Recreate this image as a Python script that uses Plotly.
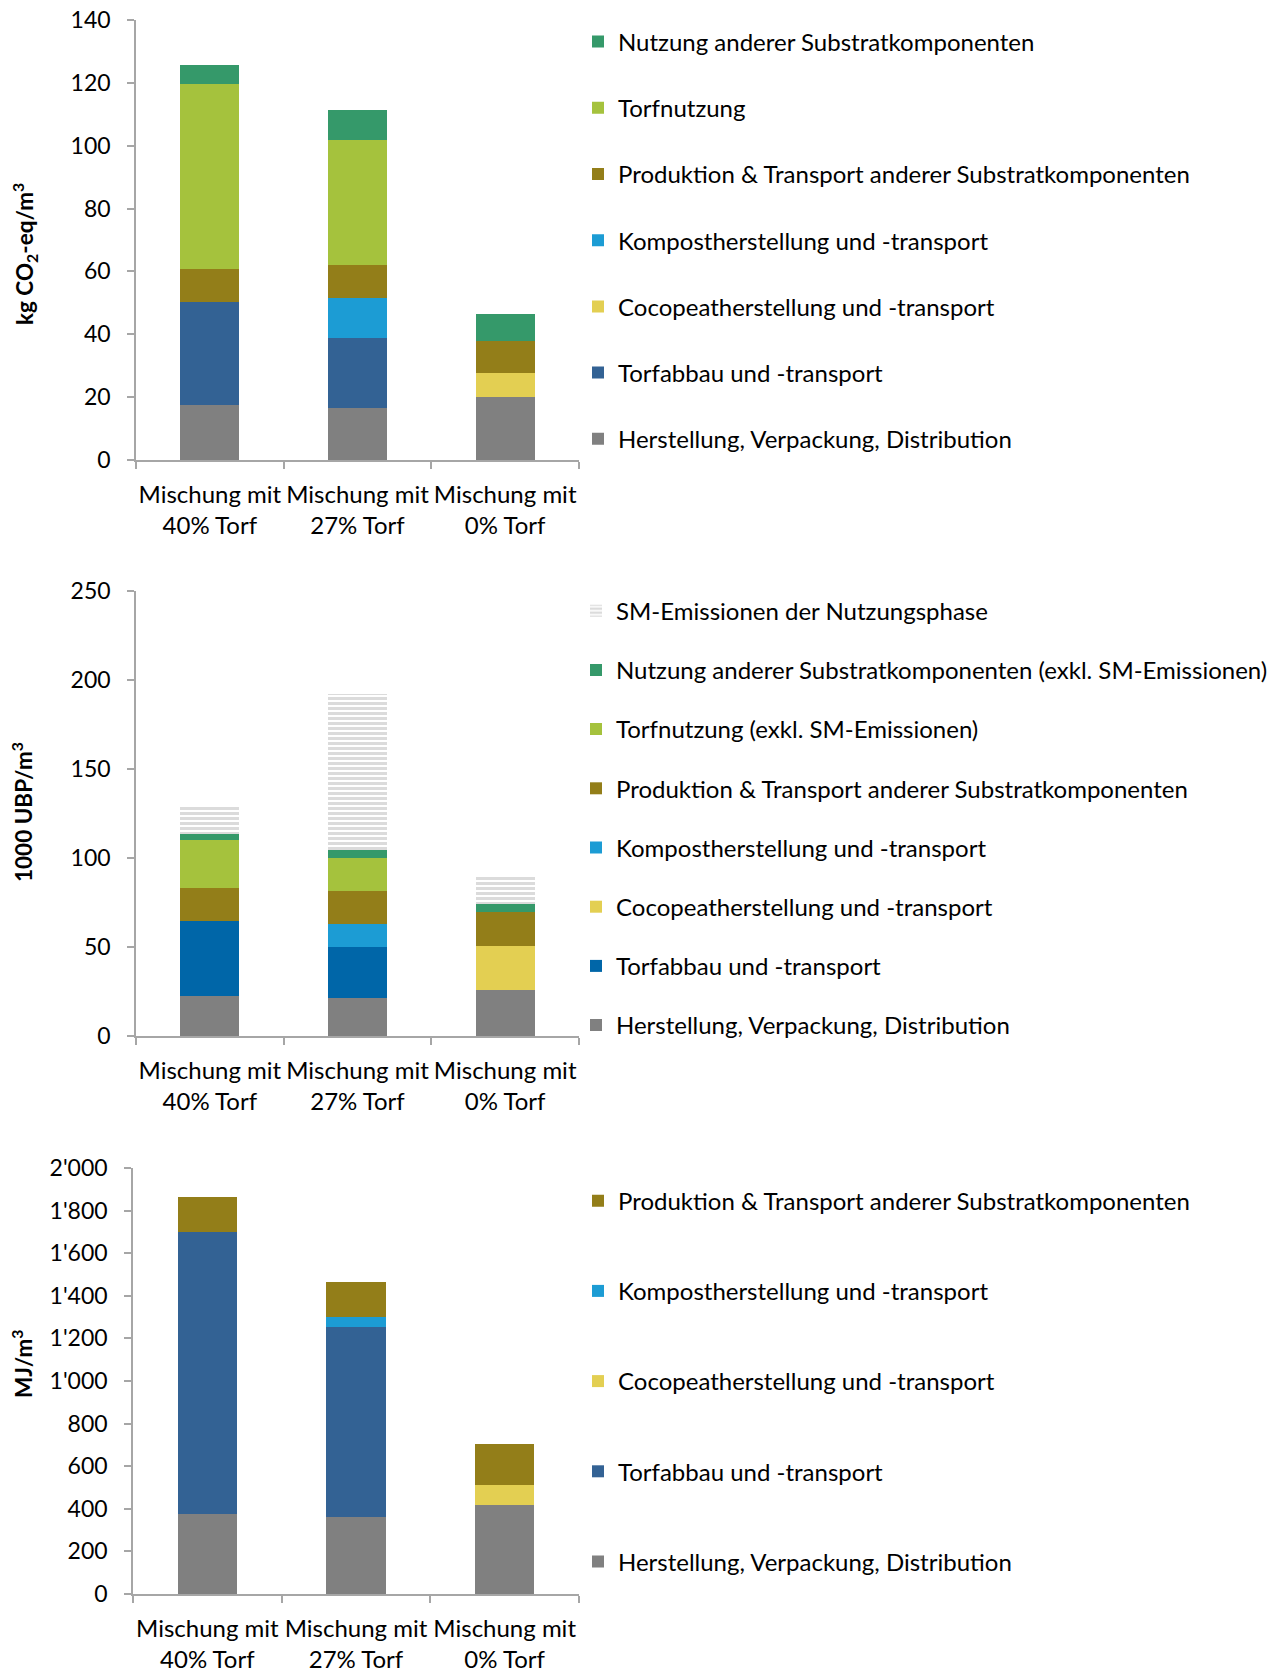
import plotly.graph_objects as go

categories = ["Mischung mit<br>40% Torf", "Mischung mit<br>27% Torf", "Mischung mit<br>0% Torf"]

# Chart 1: kg CO2-eq/m3
c1_herstellung = [17.6, 16.7, 20.1]
c1_torfabbau = [32.7, 22.1, 0]
c1_cocopeat = [0, 0, 7.5]
c1_kompost = [0, 12.7, 0]
c1_produktion = [10.4, 10.6, 10.4]
c1_torfnutzung = [58.8, 39.7, 0]
c1_nutzung = [6.2, 9.6, 8.5]

# Chart 2: 1000 UBP/m3
c2_herstellung = [22.3, 21.3, 25.7]
c2_torfabbau = [42.3, 28.6, 0]
c2_cocopeat = [0, 0, 25.0]
c2_kompost = [0, 13.1, 0]
c2_produktion = [18.4, 18.4, 19.1]
c2_torfnutzung = [27.1, 18.4, 0]
c2_nutzung = [3.2, 4.9, 4.4]
c2_sm = [15.4, 87.6, 15.8]

# Chart 3: MJ/m3
c3_herstellung = [374, 362, 418]
c3_torfabbau = [1325, 891, 0]
c3_cocopeat = [0, 0, 93]
c3_kompost = [0, 48, 0]
c3_produktion = [166, 162, 192]

GRAY = "#808080"
BLUE1 = "#336294"
BLUE2 = "#0066A8"
KOMPOST = "#1C9CD4"
COCO = "#E3CF52"
BROWN = "#937E19"
LGREEN = "#A5C23D"
GREEN = "#35996A"

FONT = "Lato"
W, H = 1281, 1670
OFF = 8  # page body margin


def xp(px):
    return (px - OFF) / W


def yp(py):
    return 1 - (py - OFF) / H


fig = go.Figure()
rank = {"legend": 1000, "legend2": 1000, "legend3": 1000}


def add(name, vals, color, xa, ya, legend, pattern=None):
    marker = dict(color=color, line=dict(width=0))
    if pattern:
        marker = dict(color="white", line=dict(width=0),
                      pattern=dict(shape="-", size=5, solidity=0.6, fgcolor="#B8B8B8", bgcolor="white"))
    rank[legend] -= 1
    fig.add_trace(go.Bar(x=categories, y=vals, name=name, marker=marker,
                         xaxis=xa, yaxis=ya, legend=legend, legendgroup=legend + name,
                         legendrank=rank[legend],
                         width=0.4, hoverinfo="y+name"))


# chart 1
add("Herstellung, Verpackung, Distribution", c1_herstellung, GRAY, "x", "y", "legend")
add("Torfabbau und -transport", c1_torfabbau, BLUE1, "x", "y", "legend")
add("Cocopeatherstellung und -transport", c1_cocopeat, COCO, "x", "y", "legend")
add("Kompostherstellung und -transport", c1_kompost, KOMPOST, "x", "y", "legend")
add("Produktion & Transport anderer Substratkomponenten", c1_produktion, BROWN, "x", "y", "legend")
add("Torfnutzung", c1_torfnutzung, LGREEN, "x", "y", "legend")
add("Nutzung anderer Substratkomponenten", c1_nutzung, GREEN, "x", "y", "legend")

# chart 2
add("Herstellung, Verpackung, Distribution", c2_herstellung, GRAY, "x2", "y2", "legend2")
add("Torfabbau und -transport", c2_torfabbau, BLUE2, "x2", "y2", "legend2")
add("Cocopeatherstellung und -transport", c2_cocopeat, COCO, "x2", "y2", "legend2")
add("Kompostherstellung und -transport", c2_kompost, KOMPOST, "x2", "y2", "legend2")
add("Produktion & Transport anderer Substratkomponenten", c2_produktion, BROWN, "x2", "y2", "legend2")
add("Torfnutzung (exkl. SM-Emissionen)", c2_torfnutzung, LGREEN, "x2", "y2", "legend2")
add("Nutzung anderer Substratkomponenten (exkl. SM-Emissionen)", c2_nutzung, GREEN, "x2", "y2", "legend2")
add("SM-Emissionen der Nutzungsphase", c2_sm, "white", "x2", "y2", "legend2", pattern=True)

# chart 3
add("Herstellung, Verpackung, Distribution", c3_herstellung, GRAY, "x3", "y3", "legend3")
add("Torfabbau und -transport", c3_torfabbau, BLUE1, "x3", "y3", "legend3")
add("Cocopeatherstellung und -transport", c3_cocopeat, COCO, "x3", "y3", "legend3")
add("Kompostherstellung und -transport", c3_kompost, KOMPOST, "x3", "y3", "legend3")
add("Produktion & Transport anderer Substratkomponenten", c3_produktion, BROWN, "x3", "y3", "legend3")

AX = "#A6A6A6"


def xaxis(dom, anchor):
    return dict(domain=dom, anchor=anchor, type="category", range=[-0.5, 2.5], automargin=False,
                showline=True, linecolor=AX, linewidth=1.5, ticks="outside", tickson="boundaries",
                ticklen=7, tickcolor=AX, tickwidth=1.5, showgrid=False, zeroline=False,
                tickangle=0, ticklabelstandoff=12, ticklabeloverflow="allow",
                tickfont=dict(family=FONT, size=24, color="#000"))


def yaxis(dom, anchor, rng, dtick):
    return dict(domain=dom, anchor=anchor, range=rng, dtick=dtick, tickformat=",d", automargin=False,
                showline=True, linecolor=AX, linewidth=1.5, ticks="outside", ticklen=7,
                tickcolor=AX, tickwidth=1.5, showgrid=False, zeroline=False,
                ticklabelstandoff=12, ticklabeloverflow="allow",
                tickfont=dict(family=FONT, size=23, color="#000"))


xd = [xp(136), xp(579)]
xd3 = [xp(133), xp(579)]
y1 = [yp(460), yp(20)]
y2 = [yp(1036), yp(591)]
y3 = [yp(1594), yp(1168)]


def leg(x, y, gap):
    return dict(x=x, y=y, xanchor="left", yanchor="top", traceorder="grouped",
                tracegroupgap=gap, font=dict(family=FONT, size=24, color="#000"),
                bgcolor="rgba(0,0,0,0)", borderwidth=0)


ytitles = [
    ("<b>kg CO<sub>2</sub>-eq/m<sup>3</sup></b>", 24, 254),
    ("<b>1000 UBP/m<sup>3</sup></b>", 22, 812),
    ("<b>MJ/m<sup>3</sup></b>", 22, 1364),
]
annotations = [dict(text=t, x=xp(px), y=yp(py), xref="paper", yref="paper",
                    xanchor="center", yanchor="middle", textangle=-90, showarrow=False,
                    font=dict(family=FONT, size=22.5, color="#000"))
               for t, px, py in ytitles]

fig.update_layout(
    width=W, height=H, margin=dict(l=0, r=0, t=0, b=0, autoexpand=False),
    paper_bgcolor="white", plot_bgcolor="white",
    barmode="stack", separators=".'", showlegend=True,
    font=dict(family=FONT, color="#000"),
    xaxis=xaxis(xd, "y"), yaxis=yaxis(y1, "x", [0, 140], 20),
    xaxis2=xaxis(xd, "y2"), yaxis2=yaxis(y2, "x2", [0, 250], 50),
    xaxis3=xaxis(xd3, "y3"), yaxis3=yaxis(y3, "x3", [0, 2000], 200),
    legend=leg(570 / W, 1 - 11.5 / H, 32),
    legend2=leg(568 / W, 1 - 580.6 / H, 25),
    legend3=leg(570 / W, 1 - 1170.6 / H, 56),
    annotations=annotations,
)

fig.write_html("out.html")
